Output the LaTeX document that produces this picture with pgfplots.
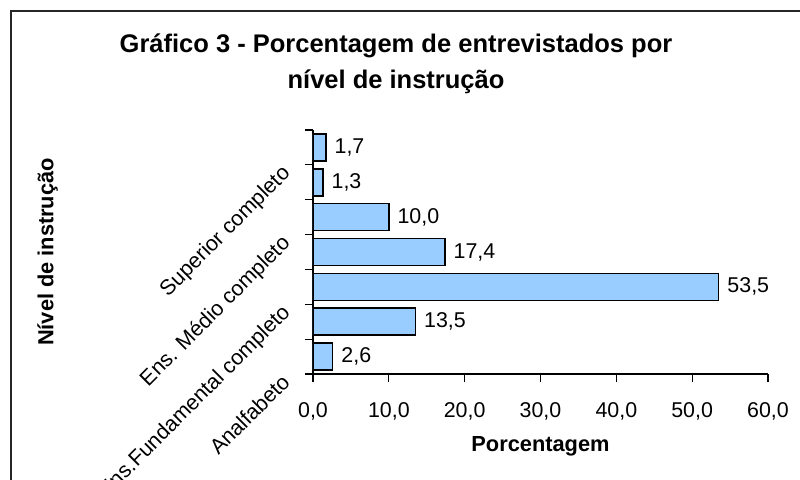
\documentclass[border=0pt]{standalone}
\usepackage{fontspec}
\setmainfont{Liberation Sans}
\usepackage{pgfplots}
\pgfplotsset{compat=1.18}
\definecolor{barblue}{HTML}{99CCFF}
\begin{document}
\begin{tikzpicture}
\path[use as bounding box] (0,0) rectangle (400pt,239.5pt);
\clip (0,0) rectangle (400pt,239.5pt);
\fill[white] (0,0) rectangle (400pt,239.5pt);
\draw[line width=0.7pt, black!85] (5.5pt,-10pt) -- (5.5pt,234pt) -- (410pt,234pt);
\node[anchor=base, inner sep=0pt, font=\fontsize{12.75}{15}\selectfont\bfseries] at (198pt,213.5pt) {Gráfico 3 - Porcentagem de entrevistados por};
\node[anchor=base, inner sep=0pt, font=\fontsize{12.75}{15}\selectfont\bfseries] at (198pt,195.5pt) {nível de instrução};
\node[anchor=base, inner sep=0pt, rotate=90, font=\fontsize{10.9}{13}\selectfont\bfseries] at (26.7pt,113.5pt) {Nível de instrução};
\node[anchor=base, inner sep=0pt, font=\fontsize{10.9}{13}\selectfont\bfseries] at (270.25pt,13.65pt) {Porcentagem};
\begin{axis}[
  at={(156.5pt,52.5pt)}, anchor=south west,
  scale only axis, width=227.5pt, height=122pt,
  xbar, bar width=13.5pt,
  xmin=0, xmax=60, ymin=0.5, ymax=7.5,
  axis x line*=bottom, axis y line*=left,
  axis line style={black, line width=0.6pt},
  tick align=outside, major tick length=4pt,
  tick style={black, line width=0.6pt},
  xtick={0,10,...,60},
  ytick={0.5,1.5,...,7.5}, yticklabels={},
  extra y ticks={1,3,5,7},
  extra y tick labels={Analfabeto, Ens.Fundamental completo, Ens. Médio completo, Superior completo},
  extra y tick style={major tick length=0pt, yticklabel style={xshift=-16.5pt,yshift=-7.75pt,rotate=45,anchor=north east, inner sep=0pt}},
  tick label style={font=\fontsize{10.7}{12.8}\selectfont},
  xticklabel style={anchor=base, yshift=-17.5pt},
  nodes near coords,
  nodes near coords align={horizontal},
  nodes near coords style={font=\fontsize{10.7}{12.8}\selectfont, inner sep=0pt, xshift=4pt, anchor=west},
  /pgf/number format/.cd, fixed, fixed zerofill, precision=1, use comma, assume math mode=true
]
\addplot[fill=barblue, draw=black, line width=0.75pt] coordinates {
  (2.6,1) (13.5,2) (53.5,3) (17.4,4) (10.0,5) (1.3,6) (1.7,7)
};
\end{axis}
\end{tikzpicture}
\end{document}
